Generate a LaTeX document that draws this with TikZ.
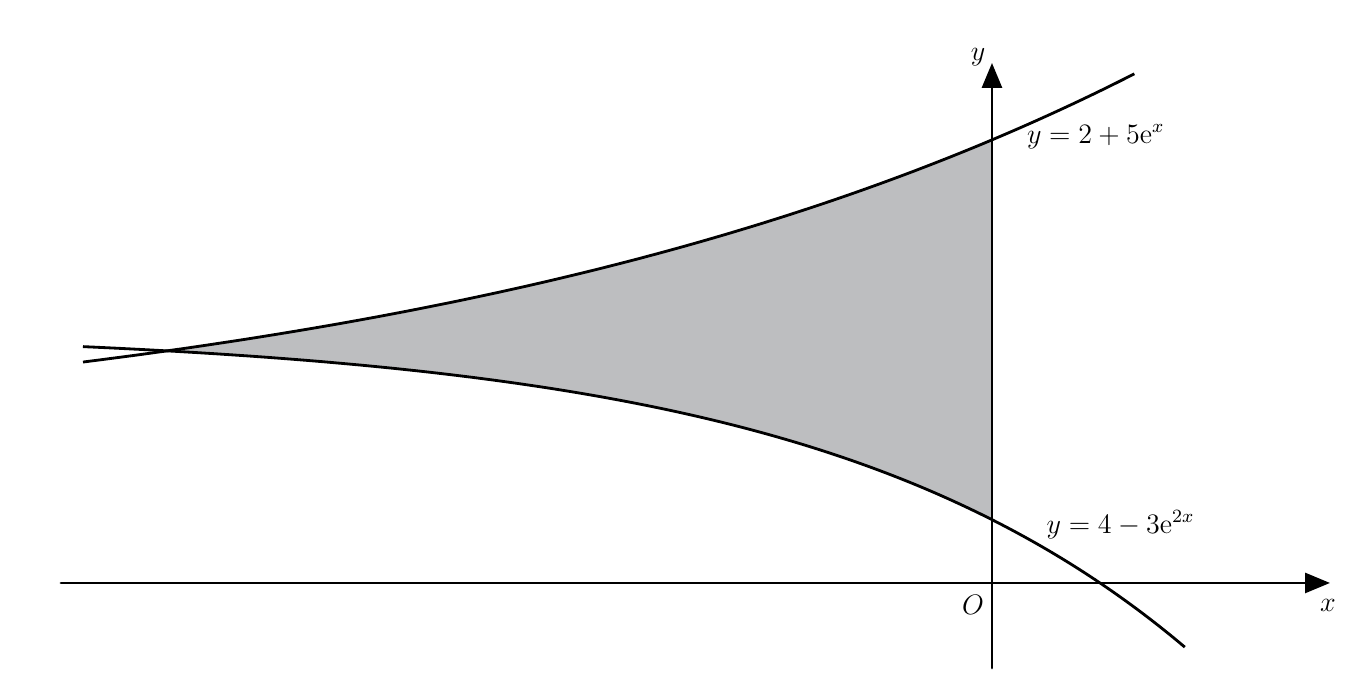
\documentclass[tikz,border=0pt]{standalone}
\usepackage{amssymb}
\usepackage{mathtools}
\usepackage{tkz-euclide}
\usetikzlibrary{arrows.meta,calc}

\definecolor{regiongray}{RGB}{189,190,192}
\tikzset{
  curve/.style={line width=1.2pt,samples=120,smooth},
  axis/.style={line width=1.2pt,-{Triangle[length=3.75mm,width=3mm]}},
  lbl/.style={font=\large,inner sep=0pt}
}

\begin{document}
\begin{tikzpicture}[x=11.265cm,y=0.9495cm]
        \useasboundingbox (-1.3209,-1.611) rectangle (0.5007,9.210);
        \tkzDefPoints{0/0/O,-1.2397/0/A,0.4501/0/B,0/-1.343/C,0/8.215/D}
        % shaded region between the curves
        \fill[regiongray] plot[domain=-1.0986:0,samples=80] (\x,{2+5*exp(\x)})
            -- plot[domain=0:-1.0986,samples=80] (\x,{4-3*exp(2*\x)}) -- cycle;
        \tkzDrawSegments[axis](A,B C,D)
        \draw[curve,domain=-1.2104:0.1904] plot (\x,{2+5*exp(\x)});
        \draw[curve,domain=-1.2104:0.257] plot (\x,{4-3*exp(2*\x)});
        \node[lbl,anchor=west] (upper) at (0.046,7.05) {$y = 2 + 5\mathrm{e}^{x}$};
        \node[lbl,anchor=west] (lower) at (0.072,0.92) {$y = 4 - 3\mathrm{e}^{2x}$};
        \node[lbl] (ylab) at (-0.0186,8.31) {$y$};
        \node[lbl] (xlab) at (0.4474,-0.348) {$x$};
        \node[lbl] (olab) at (-0.0253,-0.348) {$O$};
    \end{tikzpicture}
\end{document}
